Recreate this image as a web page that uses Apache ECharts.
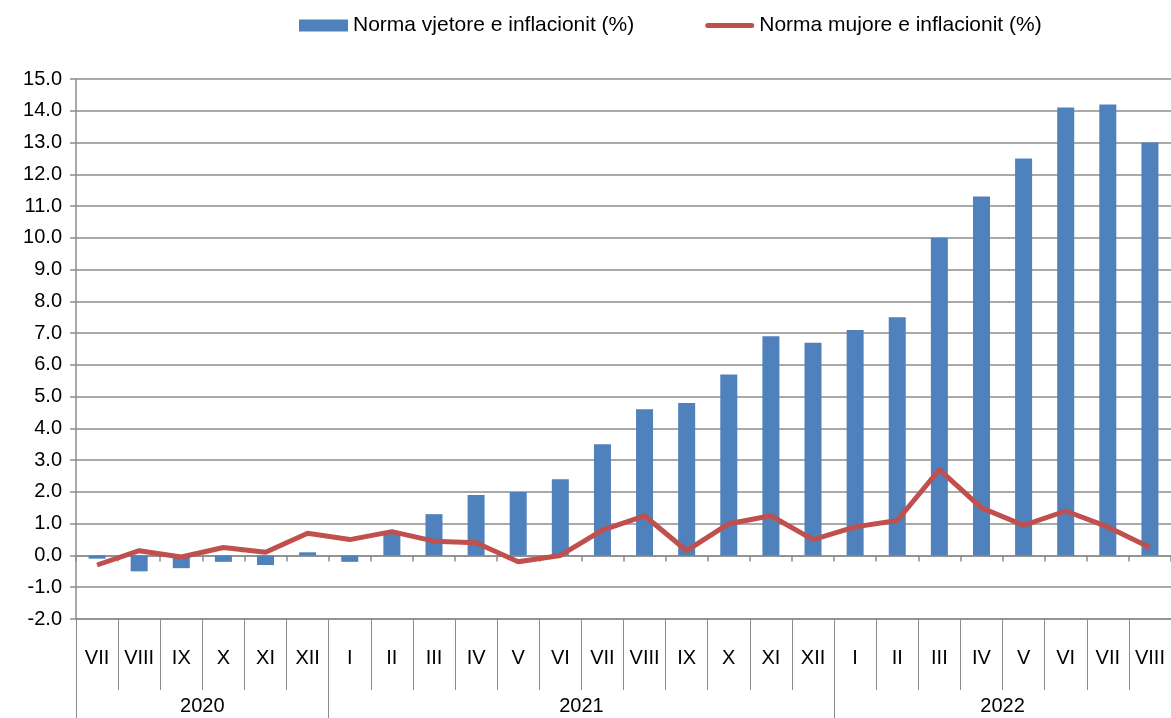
<!DOCTYPE html>
<html>
<head>
<meta charset="utf-8">
<script src="https://cdn.jsdelivr.net/npm/echarts@6/dist/echarts.min.js"></script>
<style>
  html, body { margin: 0; padding: 0; background: #fff; }
  #chart { width: 1171px; height: 718px; }
</style>
</head>
<body>
<div id="chart"></div>
<script>
const months = ['VII', 'VIII', 'IX', 'X', 'XI', 'XII',
  'I', 'II', 'III', 'IV', 'V', 'VI', 'VII', 'VIII', 'IX', 'X', 'XI', 'XII',
  'I', 'II', 'III', 'IV', 'V', 'VI', 'VII', 'VIII']
const years = ['2020', '2021', '2022']
// where each year starts on the month axis (last entry = end)
const yearStarts = [0, 6, 18, 26]
const annualRate = [-0.1, -0.5, -0.4, -0.2, -0.3, 0.1,
  -0.2, 0.7, 1.3, 1.9, 2.0, 2.4, 3.5, 4.6, 4.8, 5.7, 6.9, 6.7,
  7.1, 7.5, 10.0, 11.3, 12.5, 14.1, 14.2, 13.0]
const monthlyRate = [-0.3, 0.15, -0.05, 0.25, 0.1, 0.7,
  0.5, 0.75, 0.45, 0.4, -0.2, 0.0, 0.8, 1.25, 0.15, 1.0, 1.25, 0.5,
  0.9, 1.1, 2.7, 1.5, 0.95, 1.4, 0.9, 0.25]

const font = "'Liberation Sans', Arial, sans-serif"
const gridColor = '#8c8c8c'
const yearMids = years.map((y, i) => (yearStarts[i] + yearStarts[i + 1]) / 2)

const chart = echarts.init(document.getElementById('chart'))
chart.setOption({
  animation: false,
  textStyle: { fontFamily: font },
  legend: {
    left: 294,
    top: 10,
    itemWidth: 49,
    itemHeight: 12,
    itemGap: 71,
    textStyle: { fontSize: 21, color: '#000', fontFamily: font },
    data: [
      { name: 'Norma vjetore e inflacionit (%)', icon: 'rect' },
      {
        name: 'Norma mujore e inflacionit (%)',
        // thick rounded stroke like the reference
        icon: 'path://M2.5,0 h44 a2.5,2.5 0 0 1 0,5 h-44 a2.5,2.5 0 0 1 0,-5 z'
      }
    ]
  },
  grid: {
    left: 76,
    right: 0,
    top: 79,
    bottom: 99,
    containLabel: false
  },
  xAxis: [
    {
      // axis line crossing at zero, with small ticks
      type: 'category',
      data: months,
      position: 'bottom',
      axisLine: { onZero: true, lineStyle: { color: gridColor, width: 1.5 } },
      axisTick: { show: true, interval: 0, length: 6, lineStyle: { color: gridColor, width: 1.5 } },
      axisLabel: { show: false },
      splitLine: { show: false }
    },
    {
      // month labels at the bottom
      type: 'category',
      data: months,
      position: 'bottom',
      axisLine: { onZero: false, show: true, lineStyle: { color: gridColor, width: 1.5 } },
      axisTick: { show: true, interval: 0, length: 71, lineStyle: { color: gridColor, width: 1 } },
      axisLabel: { interval: 0, margin: 29, fontSize: 20, color: '#000', fontFamily: font },
      splitLine: { show: false }
    },
    {
      // year labels
      type: 'value',
      min: 0,
      max: months.length,
      position: 'bottom',
      axisLine: { onZero: false, show: false },
      axisTick: { show: true, customValues: yearStarts, length: 99, lineStyle: { color: gridColor, width: 1 } },
      axisLabel: {
        customValues: yearMids,
        margin: 77,
        fontSize: 20,
        color: '#000',
        fontFamily: font,
        formatter: (v) => years[yearMids.indexOf(v)]
      },
      splitLine: { show: false }
    }
  ],
  yAxis: {
    type: 'value',
    min: -2,
    max: 15,
    interval: 1,
    axisLine: { show: true, lineStyle: { color: gridColor, width: 1.5 } },
    axisTick: { show: true, length: 6, lineStyle: { color: gridColor, width: 1.5 } },
    axisLabel: {
      margin: 14,
      fontSize: 20,
      color: '#000',
      fontFamily: font,
      formatter: (v) => v.toFixed(1)
    },
    splitLine: { show: true, lineStyle: { color: gridColor, width: 1.5 } }
  },
  series: [
    {
      name: 'Norma vjetore e inflacionit (%)',
      type: 'bar',
      xAxisIndex: 0,
      barWidth: 17,
      itemStyle: { color: '#4f81bd' },
      data: annualRate
    },
    {
      name: 'Norma mujore e inflacionit (%)',
      type: 'line',
      xAxisIndex: 0,
      symbol: 'none',
      lineStyle: { color: '#c0504d', width: 5 },
      itemStyle: { color: '#c0504d' },
      data: monthlyRate
    }
  ]
})
</script>
</body>
</html>
